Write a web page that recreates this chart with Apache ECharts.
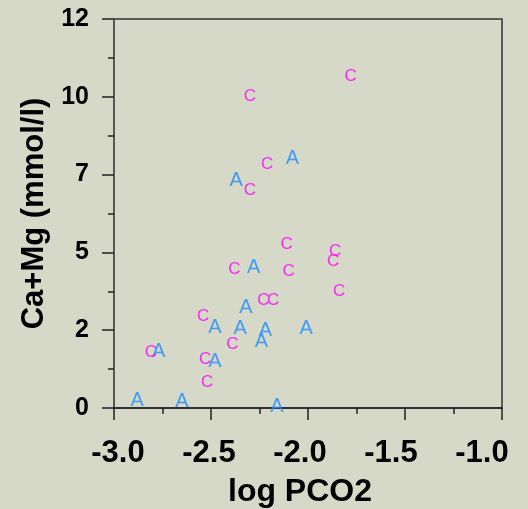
<!DOCTYPE html>
<html>
<head>
<meta charset="utf-8">
<script src="https://cdn.jsdelivr.net/npm/echarts@6/dist/echarts.min.js"></script>
<style>
	html, body { margin: 0; padding: 0; background: #d6d8c8; }
	#chart { width: 528px; height: 509px; }
</style>
</head>
<body>
<div id="chart"></div>
<script>
// group A (blue letters)
const aX = [-2.08, -2.37, -2.28, -2.32, -2.48, -2.35, -2.22, -2.01, -2.24, -2.77, -2.48, -2.88, -2.65, -2.16]
const aY = [7.70, 7.03, 4.34, 3.09, 2.48, 2.45, 2.38, 2.45, 2.05, 1.74, 1.45, 0.22, 0.19, 0.06]

// group C (magenta letters)
const cX = [-2.30, -2.21, -2.30, -1.78, -2.11, -2.38, -2.10, -2.23, -2.18, -2.54, -2.39, -2.81, -2.53, -2.52, -1.86, -1.87, -1.84]
const cY = [9.60, 7.53, 6.70, 10.24, 5.06, 4.28, 4.23, 3.33, 3.33, 2.84, 1.97, 1.72, 1.50, 0.78, 4.82, 4.54, 3.59]

const font = 'Liberation Sans, Arial, sans-serif'
const tickLine = { color: '#222', width: 1.5 }

const chart = echarts.init(document.getElementById('chart'))

const letterSeries = (name, xs, ys, color, size) => ({
	name: name,
	type: 'scatter',
	data: xs.map((x, i) => [x, ys[i]]),
	symbolSize: 0.1,
	itemStyle: { color: 'transparent' },
	label: {
		show: true,
		position: 'inside',
		formatter: name,
		color: color,
		fontSize: size,
		fontFamily: font,
		verticalAlign: 'middle',
		align: 'center'
	},
	emphasis: { disabled: true }
})

chart.setOption({
	backgroundColor: '#d6d8c8',
	animation: false,
	grid: [
		{
			left: 114, right: 26, top: 19, bottom: 101,
			outerBoundsMode: 'none',
			show: true,
			borderColor: '#333',
			borderWidth: 1.5
		},
		// the printed x labels sit a little tighter than the ticks
		{ left: 118, right: 46, top: 19, bottom: 101, outerBoundsMode: 'none' }
	],
	xAxis: [
		{
			type: 'value',
			min: -3, max: -1, interval: 0.5,
			axisLine: { lineStyle: tickLine },
			axisTick: { length: 12, lineStyle: tickLine },
			minorTick: { show: true, splitNumber: 2, length: 6, lineStyle: tickLine },
			axisLabel: { show: false },
			splitLine: { show: false }
		},
		{
			gridIndex: 1,
			type: 'value',
			min: -3, max: -1, interval: 0.5,
			name: 'log PCO2',
			nameLocation: 'middle',
			nameGap: 68,
			nameTextStyle: { fontSize: 32, fontWeight: 'bold', color: '#000', fontFamily: font },
			axisLine: { show: false },
			axisTick: { show: false },
			axisLabel: {
				margin: 30, fontSize: 31, fontWeight: 'bold', color: '#000', fontFamily: font,
				formatter: v => v.toFixed(1)
			},
			splitLine: { show: false }
		}
	],
	yAxis: [
		{
			type: 'value',
			min: 0, max: 12, interval: 2.4,
			name: 'Ca+Mg (mmol/l)',
			nameLocation: 'middle',
			nameGap: 62,
			nameTextStyle: { fontSize: 31, fontWeight: 'bold', color: '#000', fontFamily: font },
			axisLine: { show: true, lineStyle: { color: '#555', width: 1.5 } },
			axisTick: { show: true, length: 12, lineStyle: tickLine },
			minorTick: { show: true, splitNumber: 2, length: 6, lineStyle: tickLine },
			axisLabel: {
				margin: 25, fontSize: 25, fontWeight: 'bold', color: '#000', fontFamily: font,
				formatter: v => String(Math.round(v))
			},
			splitLine: { show: false }
		},
		{
			gridIndex: 1,
			type: 'value',
			min: 0, max: 12,
			show: false
		}
	],
	series: [
		letterSeries('A', aX, aY, '#1e8cff', 20),
		letterSeries('C', cX, cY, '#ff00ff', 17)
	]
})
</script>
</body>
</html>
